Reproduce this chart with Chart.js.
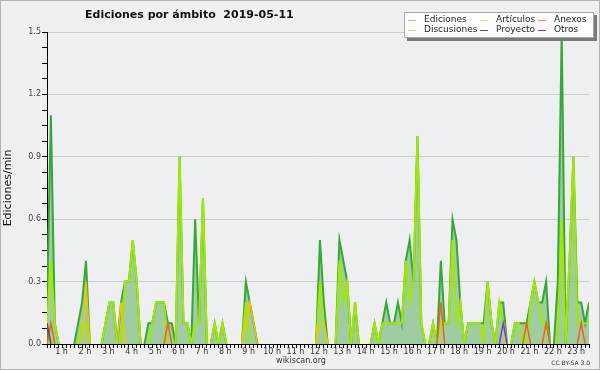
<!DOCTYPE html>
<html>
<head>
<meta charset="utf-8">
<script src="https://cdn.jsdelivr.net/npm/chart.js@4/dist/chart.umd.min.js"></script>
<style>
  html, body { margin: 0; padding: 0; background: #f0f0f0; }
  canvas { display: block; }
</style>
</head>
<body>
<canvas id="chart" width="600" height="370"></canvas>
<script>
// Ediciones por minuto, cada punto = 10 minutos (140 puntos)
const puntos = Array.from({ length: 140 }, (_, i) => i);

const ediciones = [
    0.2, 1.1, 0.1, 0, 0, 0, 0, 0, 0.1, 0.2,
    0.4, 0, 0, 0, 0, 0.1, 0.2, 0.2, 0, 0.2,
    0.3, 0.3, 0.5, 0.3, 0, 0, 0.1, 0.1, 0.2, 0.2,
    0.2, 0.1, 0.1, 0, 0.9, 0.1, 0.1, 0, 0.6, 0.1,
    0.7, 0, 0, 0.1, 0, 0.1, 0, 0, 0, 0,
    0, 0.3, 0.2, 0.1, 0, 0, 0, 0, 0, 0,
    0, 0, 0, 0, 0, 0, 0, 0, 0, 0,
    0.5, 0.2, 0, 0, 0, 0.5, 0.4, 0.3, 0, 0.2,
    0, 0, 0, 0, 0.1, 0, 0.1, 0.2, 0.1, 0.1,
    0.2, 0.1, 0.4, 0.5, 0.3, 1.0, 0.1, 0, 0, 0.1,
    0, 0.4, 0.1, 0.1, 0.6, 0.5, 0.2, 0, 0.1, 0.1,
    0.1, 0.1, 0.1, 0.3, 0.1, 0, 0.2, 0.2, 0, 0,
    0.1, 0.1, 0.1, 0.1, 0.2, 0.3, 0.2, 0.2, 0.3, 0,
    0, 0.3, 1.5, 0, 0.4, 0.9, 0.2, 0.2, 0.1, 0.2
];

const articulos = [
    0.1, 0.4, 0.1, 0, 0, 0, 0, 0, 0, 0.1,
    0.1, 0, 0, 0, 0, 0.1, 0.2, 0.2, 0, 0,
    0.3, 0.3, 0.5, 0.3, 0, 0, 0, 0.1, 0.2, 0.2,
    0.2, 0, 0, 0, 0.9, 0.1, 0.1, 0, 0.1, 0.1,
    0.7, 0, 0, 0.1, 0, 0.1, 0, 0, 0, 0,
    0, 0.2, 0, 0, 0, 0, 0, 0, 0, 0,
    0, 0, 0, 0, 0, 0, 0, 0, 0, 0,
    0.3, 0.1, 0, 0, 0, 0.4, 0.2, 0.3, 0, 0.2,
    0, 0, 0, 0, 0.1, 0, 0.1, 0.1, 0.1, 0.1,
    0.1, 0.1, 0.4, 0.2, 0.3, 1.0, 0.1, 0, 0, 0.1,
    0, 0.1, 0.1, 0.1, 0.5, 0.1, 0.2, 0, 0.1, 0.1,
    0.1, 0.1, 0, 0.3, 0.1, 0, 0.2, 0.1, 0, 0,
    0.1, 0.1, 0, 0, 0.2, 0.3, 0.2, 0.1, 0.1, 0,
    0, 0, 0.6, 0, 0.4, 0.9, 0.1, 0.1, 0.1, 0.1
];

const anexos = [
    0, 0.1, 0, 0, 0, 0, 0, 0, 0, 0,
    0, 0, 0, 0, 0, 0, 0, 0, 0, 0,
    0, 0, 0, 0, 0, 0, 0, 0, 0, 0,
    0, 0.1, 0, 0, 0, 0, 0, 0, 0, 0,
    0, 0, 0, 0, 0, 0, 0, 0, 0, 0,
    0, 0, 0, 0, 0, 0, 0, 0, 0, 0,
    0, 0, 0, 0, 0, 0, 0, 0, 0, 0,
    0, 0, 0, 0, 0, 0, 0, 0, 0, 0,
    0, 0, 0, 0, 0, 0, 0, 0, 0, 0,
    0, 0, 0, 0, 0, 0, 0, 0, 0, 0,
    0, 0.2, 0, 0, 0, 0, 0, 0, 0, 0,
    0, 0, 0, 0, 0, 0, 0, 0, 0, 0,
    0, 0, 0, 0.1, 0, 0, 0, 0, 0.1, 0,
    0, 0, 0, 0, 0, 0, 0, 0.1, 0, 0
];

const discusiones = [
    0, 0, 0, 0, 0, 0, 0, 0, 0, 0,
    0.3, 0, 0, 0, 0, 0, 0, 0, 0, 0.2,
    0, 0, 0, 0, 0, 0, 0, 0, 0, 0,
    0, 0, 0, 0, 0, 0, 0, 0, 0, 0,
    0, 0, 0, 0, 0, 0, 0, 0, 0, 0,
    0, 0.1, 0.2, 0.1, 0, 0, 0, 0, 0, 0,
    0, 0, 0, 0, 0, 0, 0, 0, 0, 0,
    0.1, 0.1, 0, 0, 0, 0, 0, 0, 0, 0,
    0, 0, 0, 0, 0, 0, 0, 0, 0, 0,
    0, 0, 0, 0, 0, 0, 0, 0, 0, 0,
    0, 0, 0, 0, 0, 0, 0, 0, 0, 0,
    0, 0, 0, 0, 0, 0, 0, 0, 0, 0,
    0, 0, 0, 0, 0, 0, 0, 0, 0, 0,
    0, 0, 0, 0, 0, 0, 0, 0, 0, 0
];

const proyecto = [
    0.1, 0, 0, 0, 0, 0, 0, 0, 0, 0,
    0, 0, 0, 0, 0, 0, 0, 0, 0, 0,
    0, 0, 0, 0, 0, 0, 0, 0, 0, 0,
    0, 0, 0, 0, 0, 0, 0, 0, 0, 0,
    0, 0, 0, 0, 0, 0, 0, 0, 0, 0,
    0, 0, 0, 0, 0, 0, 0, 0, 0, 0,
    0, 0, 0, 0, 0, 0, 0, 0, 0, 0,
    0, 0, 0, 0, 0, 0, 0, 0, 0, 0,
    0, 0, 0, 0, 0, 0, 0, 0, 0, 0,
    0, 0, 0, 0, 0, 0, 0, 0, 0, 0,
    0, 0, 0, 0, 0, 0, 0, 0, 0, 0,
    0, 0, 0, 0, 0, 0, 0, 0, 0, 0,
    0, 0, 0, 0, 0, 0, 0, 0, 0, 0,
    0, 0, 0, 0, 0, 0, 0, 0, 0, 0
];

const otros = [
    0, 0, 0, 0, 0, 0, 0, 0, 0, 0,
    0, 0, 0, 0, 0, 0, 0, 0, 0, 0,
    0, 0, 0, 0, 0, 0, 0, 0, 0, 0,
    0, 0, 0, 0, 0, 0, 0, 0, 0, 0,
    0, 0, 0, 0, 0, 0, 0, 0, 0, 0,
    0, 0, 0, 0, 0, 0, 0, 0, 0, 0,
    0, 0, 0, 0, 0, 0, 0, 0, 0, 0,
    0, 0, 0, 0, 0, 0, 0, 0, 0, 0,
    0, 0, 0, 0, 0, 0, 0, 0, 0, 0,
    0, 0, 0, 0, 0, 0, 0, 0, 0, 0,
    0, 0, 0, 0, 0, 0, 0, 0, 0, 0,
    0, 0, 0, 0, 0, 0, 0, 0.1, 0, 0,
    0, 0, 0, 0, 0, 0, 0, 0, 0, 0,
    0, 0, 0, 0, 0, 0, 0, 0, 0, 0
];

// Etiquetas de hora: la hora h cae en el punto 6h-2
const horas = Array.from({ length: 23 }, (_, i) => i + 1);
const yTickLabels = ['0.0', '0.3', '0.6', '0.9', '1.2', '1.5'];

const titulo = 'Ediciones por ámbito  2019-05-11';
const FONT = '"DejaVu Sans", sans-serif';

// ocultar segmentos que van por el cero (quedan bajo el eje)
const hideZero = {
    borderColor: ctx => (ctx.p0.parsed.y === 0 && ctx.p1.parsed.y === 0) ? 'rgba(0,0,0,0)' : undefined
};

function serie(label, data, color, order, extra) {
    return Object.assign({
        label: label,
        data: data,
        borderColor: color,
        borderWidth: 1.5,
        pointRadius: 0,
        tension: 0,
        fill: false,
        order: order,
        segment: hideZero
    }, extra || {});
}

const decor = {
    id: 'decor',
    beforeDraw(chart) {
        const c = chart.ctx;
        const a = chart.chartArea;
        c.save();
        c.fillStyle = '#f0f0f0';
        c.fillRect(0, 0, chart.width, chart.height);
        c.strokeStyle = '#b4b4b4';
        c.lineWidth = 1;
        c.strokeRect(0.5, 0.5, chart.width - 1, chart.height - 1);
        c.fillStyle = '#edeff1';
        c.fillRect(a.left, a.top, a.right - a.left, a.bottom - a.top);
        c.restore();
    },
    afterDraw(chart) {
        const c = chart.ctx;
        c.save();
        // titulo
        c.fillStyle = '#111';
        c.font = 'bold 11px ' + FONT;
        c.textAlign = 'left';
        c.textBaseline = 'alphabetic';
        c.fillText(titulo, 85, 18);

        // leyenda en caja con sombra
        const bx = 404, by = 12, bw = 190, bh = 26;
        c.fillStyle = '#7a7a7a';
        c.fillRect(bx + 3, by + 3, bw, bh);
        c.fillStyle = '#fdfdfd';
        c.fillRect(bx, by, bw, bh);
        c.strokeStyle = '#a8a8a8';
        c.lineWidth = 1;
        c.strokeRect(bx + 0.5, by + 0.5, bw - 1, bh - 1);
        const colX = [408, 480, 538];
        const rowY = [19.5, 29.5];
        c.font = '9px ' + FONT;
        c.textBaseline = 'middle';
        chart.data.datasets.forEach((ds, k) => {
            const cx = colX[k % 3], cy = rowY[Math.floor(k / 3)];
            c.strokeStyle = ds.legendColor || ds.borderColor;
            c.lineWidth = 1;
            c.beginPath();
            c.moveTo(cx, Math.round(cy) + 0.5);
            c.lineTo(cx + 8, Math.round(cy) + 0.5);
            c.stroke();
            c.fillStyle = '#222';
            c.fillText(ds.label, cx + 16, cy);
        });

        // pie
        c.fillStyle = '#333';
        c.font = '8px ' + FONT;
        c.textAlign = 'center';
        c.fillText('wikiscan.org', 301, 361);
        c.font = '6px ' + FONT;
        c.textAlign = 'right';
        c.fillText('CC BY-SA 3.0', 590, 363);
        c.restore();
    }
};

new Chart(document.getElementById('chart'), {
    type: 'line',
    data: {
        labels: puntos,
        datasets: [
            serie('Ediciones', ediciones, '#35a835', 6, {
                borderWidth: 2, fill: 'origin', backgroundColor: 'rgba(120,185,120,0.66)', legendColor: '#8fd18f'
            }),
            serie('Artículos', articulos, '#a2e800', 5, { borderWidth: 2, legendColor: '#c8ee70' }),
            serie('Anexos', anexos, '#f0601a', 3, { legendColor: '#f58a5a' }),
            serie('Discusiones', discusiones, '#f5c400', 4, { legendColor: '#f6d460' }),
            serie('Proyecto', proyecto, '#555555', 2),
            serie('Otros', otros, '#8a2be2', 1)
        ]
    },
    options: {
        responsive: false,
        animation: false,
        devicePixelRatio: 1,
        layout: { padding: { top: 32, right: 11, bottom: 0, left: 0 } },
        plugins: {
            legend: { display: false },
            title: { display: false },
            tooltip: { enabled: false },
            filler: { drawTime: 'beforeDatasetsDraw' }
        },
        scales: {
            x: {
                type: 'linear',
                min: 0,
                max: puntos.length - 1,
                z: 1,
                afterFit(scale) { scale.height = 26; },
                border: { display: true, color: '#000', width: 1 },
                grid: { drawOnChartArea: false, drawTicks: true, tickLength: 4, tickColor: '#000' },
                ticks: {
                    stepSize: 1,
                    maxTicksLimit: 500,
                    autoSkip: false,
                    maxRotation: 0,
                    minRotation: 0,
                    padding: 0,
                    labelOffset: -1.1,
                    color: '#333',
                    font: { family: FONT, size: 8, lineHeight: 1 },
                    callback: function (value) {
                        const h = (value + 2) / 6;
                        return horas.includes(h) ? h + ' h' : '';
                    }
                }
            },
            y: {
                min: 0,
                max: 1.5,
                afterFit(scale) { scale.width = 47; },
                border: { display: true, color: '#000', width: 1 },
                grid: {
                    drawTicks: true,
                    tickLength: 5,
                    tickColor: '#000',
                    color: ctx => (Math.round(ctx.tick.value / 0.075) % 4 === 0 && ctx.tick.value > 0) ? '#cdcdcd' : 'rgba(0,0,0,0)'
                },
                ticks: {
                    stepSize: 0.075,
                    autoSkip: false,
                    padding: 1,
                    color: '#444',
                    font: { family: FONT, size: 8 },
                    callback: function (value) {
                        const k = Math.round(value / 0.075);
                        return k % 4 === 0 ? yTickLabels[k / 4] : '';
                    }
                },
                title: {
                    display: true,
                    text: 'Ediciones/min',
                    color: '#111',
                    font: { family: FONT, size: 11 },
                    padding: { top: 2, bottom: 0 }
                }
            }
        }
    },
    plugins: [decor]
});
</script>
</body>
</html>
